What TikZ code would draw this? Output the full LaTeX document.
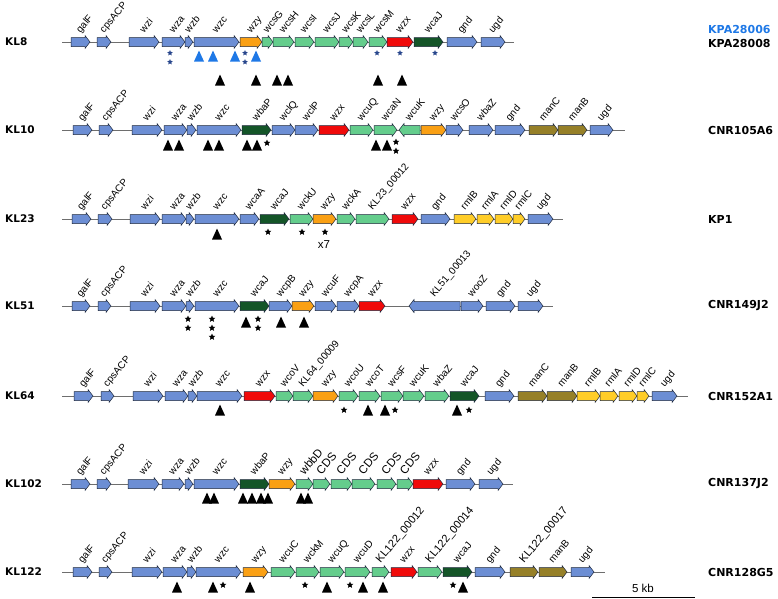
\documentclass[tikz,border=0pt]{standalone}
\usepackage{fontspec}
\setmainfont{Liberation Sans}
\newfontfamily\strainfont{DejaVu Sans}
\usetikzlibrary{shapes.geometric}

\definecolor{gblue}{RGB}{108,142,212}
\definecolor{gorange}{RGB}{250,160,20}
\definecolor{ggreen}{RGB}{100,205,140}
\definecolor{gred}{RGB}{240,10,10}
\definecolor{gdark}{RGB}{20,85,40}
\definecolor{golive}{RGB}{150,128,40}
\definecolor{gyellow}{RGB}{255,205,40}
\definecolor{gline}{RGB}{110,110,110}
\definecolor{edge}{RGB}{30,40,60}
\definecolor{tblue}{RGB}{30,120,230}
\definecolor{sblue}{RGB}{40,70,140}

\tikzstyle{genelabel} = [anchor=base west, rotate=50, inner sep=0pt, font=\fontsize{10}{11}\selectfont]
\tikzstyle{locus} = [anchor=west, inner sep=0pt, font=\strainfont\bfseries\fontsize{10.5}{12}\selectfont]
\tikzstyle{strain} = [anchor=west, inner sep=0pt, font=\strainfont\bfseries\fontsize{11}{12}\selectfont]
\tikzstyle{backbone} = [draw=gline, line width=0.8pt]
\tikzstyle{mut} = [star, star points=5, star point ratio=2.2, fill=black, inner sep=0pt, minimum size=7pt]

% gene arrow: y, start, end, colour, label
\newcommand{\gene}[5]{%
  \filldraw[fill=#4, draw=edge, line width=0.5pt] (#2,#1-4.5) -- (#3-5,#1-4.5) -- (#3-5,#1-6.5) -- (#3,#1)
    -- (#3-5,#1+6.5) -- (#3-5,#1+4.5) -- (#2,#1+4.5) -- cycle;
  \node[genelabel] at ({(#2+#3)/2},#1-8.5) {#5};}
% gene on the other strand
\newcommand{\revgene}[5]{%
  \filldraw[fill=#4, draw=edge, line width=0.5pt] (#3,#1-4.5) -- (#2+5,#1-4.5) -- (#2+5,#1-6.5) -- (#2,#1)
    -- (#2+5,#1+6.5) -- (#2+5,#1+4.5) -- (#3,#1+4.5) -- cycle;
  \node[genelabel] at ({(#2+#3)/2},#1-8.5) {#5};}
% insertion triangle: x, y, colour
\newcommand{\ins}[3]{\fill[#3] (#1-5,#2+5.5) -- (#1+5,#2+5.5) -- (#1,#2-5.5) -- cycle;}

\begin{document}
\begin{tikzpicture}[x=1pt, y=-1pt]
\useasboundingbox (0,0) rectangle (778,598);

% KL8
\node(kl8)[locus] at (5,42) {KL8};
\node(kpa6)[strain, text=tblue] at (708,29) {KPA28006};
\node(kpa8)[strain] at (708,43) {KPA28008};
\draw[backbone] (62,42) -- (514,42);
\foreach \xa/\xb/\col/\lab in {71/90/gblue/galF, 97/111/gblue/cpsACP, 129/159/gblue/wzi, 162/185/gblue/wza,
    185/193/gblue/wzb, 194/239/gblue/wzc, 240/262/gorange/wzy, 262/273/ggreen/wcsG, 273/294/ggreen/wcsH,
    295/314/ggreen/wcsI, 315/339/ggreen/wcsJ, 339/353/ggreen/wcsK, 353/368/ggreen/wcsL, 369/387/ggreen/wcsM,
    387/413/gred/wzx, 414/443/gdark/wcaJ, 447/477/gblue/gnd, 481/505/gblue/ugd}
  {\gene{42}{\xa}{\xb}{\col}{\lab}}
\foreach \x/\y in {170/53, 170/62, 245/53, 245/62, 377/53, 400/53, 435/53}
  {\node[mut, fill=sblue, minimum size=6pt] at (\x,\y) {};}
\foreach \x in {199, 213, 235, 256} {\ins{\x}{56}{tblue}}
\foreach \x in {220, 256, 277, 288, 378, 402} {\ins{\x}{80}{black}}

% KL10
\node(kl10)[locus] at (5,130) {KL10};
\node(cnr105)[strain] at (708,130) {CNR105A6};
\draw[backbone] (62,130) -- (625,130);
\foreach \xa/\xb/\col/\lab in {73/92/gblue/galF, 99/113/gblue/cpsACP, 132/162/gblue/wzi, 164/187/gblue/wza,
    187/196/gblue/wzb, 197/241/gblue/wzc, 242/271/gdark/wbaP, 272/295/gblue/wclQ, 295/318/gblue/wclP,
    319/349/gred/wzx, 350/373/ggreen/wcuQ, 374/397/ggreen/wcaN, 421/446/gorange/wzy, 446/463/gblue/wcsO,
    469/493/gblue/wbaZ, 495/525/gblue/gnd, 529/558/golive/manC, 558/587/golive/manB, 590/613/gblue/ugd}
  {\gene{130}{\xa}{\xb}{\col}{\lab}}
\revgene{130}{399}{420}{ggreen}{wcuK}
\foreach \x in {168, 179, 208, 219, 247, 257, 376, 387} {\ins{\x}{145}{black}}
\foreach \x/\y in {267/143, 396/142, 396/151} {\node[mut] at (\x,\y) {};}

% KL23
\node(kl23)[locus] at (5,219) {KL23};
\node(kp1)[strain] at (708,219) {KP1};
\draw[backbone] (62,219) -- (563,219);
\foreach \xa/\xb/\col/\lab in {72/91/gblue/galF, 98/112/gblue/cpsACP, 130/160/gblue/wzi, 162/186/gblue/wza,
    186/194/gblue/wzb, 195/239/gblue/wzc, 240/259/gblue/wcaA, 260/289/gdark/wcaJ, 290/313/ggreen/wckU,
    313/336/gorange/wzy, 337/355/ggreen/wckA, 356/389/ggreen/KL23\_00012, 392/418/gred/wzx, 421/450/gblue/gnd,
    454/476/gyellow/rmlB, 477/494/gyellow/rmlA, 495/513/gyellow/rmlD, 513/525/gyellow/rmlC, 528/553/gblue/ugd}
  {\gene{219}{\xa}{\xb}{\col}{\lab}}
\ins{217}{234}{black}
\foreach \x in {268, 302, 325} {\node[mut] at (\x,232) {};}
\node(x7)[font=\fontsize{11.5}{12}\selectfont] at (324,245) {x7};

% KL51
\node(kl51)[locus] at (5,306) {KL51};
\node(cnr149)[strain] at (708,306) {CNR149J2};
\draw[backbone] (62,306) -- (553,306);
\foreach \xa/\xb/\col/\lab in {72/90/gblue/galF, 98/111/gblue/cpsACP, 130/160/gblue/wzi, 162/186/gblue/wza,
    186/194/gblue/wzb, 195/239/gblue/wzc, 240/269/gdark/wcaJ, 269/292/gblue/wcpB, 292/314/gorange/wzy,
    315/336/gblue/wcuF, 337/359/gblue/wcpA, 359/385/gred/wzx, 461/483/gblue/wooZ, 486/515/gblue/gnd,
    518/543/gblue/ugd}
  {\gene{306}{\xa}{\xb}{\col}{\lab}}
\revgene{306}{409}{460}{gblue}{KL51\_00013}
\foreach \x/\y in {188/319, 188/328, 212/319, 212/328, 212/337, 258/319, 258/328} {\node[mut] at (\x,\y) {};}
\foreach \x in {246, 281, 304} {\ins{\x}{322}{black}}

% KL64
\node(kl64)[locus] at (5,396) {KL64};
\node(cnr152)[strain] at (708,396) {CNR152A1};
\draw[backbone] (62,396) -- (688,396);
\foreach \xa/\xb/\col/\lab in {74/93/gblue/galF, 101/114/gblue/cpsACP, 133/163/gblue/wzi, 165/188/gblue/wza,
    188/197/gblue/wzb, 197/242/gblue/wzc, 244/275/gred/wzx, 276/293/ggreen/wcoV, 293/313/ggreen/KL64\_00009,
    313/338/gorange/wzy, 339/358/ggreen/wcoU, 359/380/ggreen/wcoT, 381/403/ggreen/wcsF, 403/424/ggreen/wcuK,
    425/449/ggreen/wbaZ, 450/479/gdark/wcaJ, 485/514/gblue/gnd, 518/547/golive/manC, 547/577/golive/manB,
    577/600/gyellow/rmlB, 600/618/gyellow/rmlA, 619/637/gyellow/rmlD, 637/649/gyellow/rmlC, 652/677/gblue/ugd}
  {\gene{396}{\xa}{\xb}{\col}{\lab}}
\foreach \x in {220, 368, 385, 457} {\ins{\x}{410}{black}}
\foreach \x in {344, 395, 469} {\node[mut] at (\x,410) {};}

% KL102
\node(kl102)[locus] at (5,484) {KL102};
\node(cnr137)[strain] at (708,484) {CNR137J2};
\draw[backbone] (62,484) -- (513,484);
\foreach \xa/\xb/\col/\lab in {71/90/gblue/galF, 97/111/gblue/cpsACP, 128/159/gblue/wzi, 162/184/gblue/wza,
    185/193/gblue/wzb, 194/239/gblue/wzc, 240/269/gdark/wbaP, 269/295/gorange/wzy, 413/443/gred/wzx,
    446/475/gblue/gnd, 479/503/gblue/ugd}
  {\gene{484}{\xa}{\xb}{\col}{\lab}}
\begin{scope}[genelabel/.append style={font=\fontsize{11.5}{12}\selectfont}]
\foreach \xa/\xb/\lab in {296/313/wbbD, 313/330/CDS, 331/352/CDS, 352/375/CDS, 377/396/CDS, 397/413/CDS}
  {\gene{484}{\xa}{\xb}{ggreen}{\lab}}
\end{scope}
\foreach \x in {207, 214, 243, 252, 261, 268, 301, 308} {\ins{\x}{498}{black}}

% KL122
\node(kl122)[locus] at (5,572) {KL122};
\node(cnr128)[strain] at (708,572) {CNR128G5};
\draw[backbone] (62,572) -- (605,572);
\foreach \xa/\xb/\col/\lab in {73/92/gblue/galF, 99/112/gblue/cpsACP, 132/162/gblue/wzi, 163/187/gblue/wza,
    187/196/gblue/wzb, 196/241/gblue/wzc, 243/268/gorange/wzy, 271/295/ggreen/wcuC, 296/319/ggreen/wckM,
    320/344/ggreen/wcuQ, 345/370/ggreen/wcuD, 391/417/gred/wzx, 443/472/gdark/wcaJ, 475/505/gblue/gnd,
    539/567/golive/manB, 571/594/gblue/ugd}
  {\gene{572}{\xa}{\xb}{\col}{\lab}}
\begin{scope}[genelabel/.append style={font=\fontsize{11}{12}\selectfont}]
\foreach \xa/\xb/\col/\lab in {372/389/ggreen/KL122\_00012, 418/442/ggreen/KL122\_00014,
    510/538/golive/KL122\_00017}
  {\gene{572}{\xa}{\xb}{\col}{\lab}}
\end{scope}
\foreach \x in {177, 213, 250, 327, 363, 383, 463} {\ins{\x}{587}{black}}
\foreach \x in {223, 305, 350, 453} {\node[mut] at (\x,585) {};}

% scale bar
\draw[line width=0.8pt] (592,597) -- (695,597);
\node(kb)[anchor=base, font=\fontsize{11.5}{12}\selectfont] at (643,592) {5 kb};

\end{tikzpicture}
\end{document}
